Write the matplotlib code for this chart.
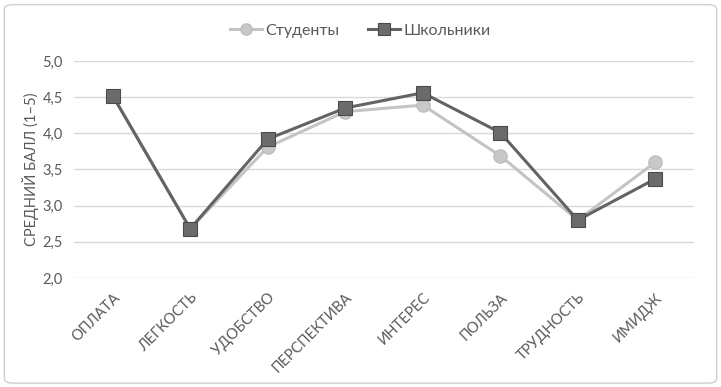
import matplotlib.pyplot as plt
from matplotlib.patches import FancyBboxPatch

plt.rcParams['font.family'] = ['Lato', 'DejaVu Sans']

# Data
categories = ["ОПЛАТА", "ЛЕГКОСТЬ", "УДОБСТВО", "ПЕРСПЕКТИВА", "ИНТЕРЕС", "ПОЛЬЗА", "ТРУДНОСТЬ", "ИМИДЖ"]
students = [4.52, 2.68, 3.81, 4.30, 4.39, 3.69, 2.80, 3.60]
schoolkids = [4.52, 2.68, 3.92, 4.35, 4.56, 4.01, 2.80, 3.37]
y_ticks = [2.0, 2.5, 3.0, 3.5, 4.0, 4.5, 5.0]

TEXT = '#595959'

fig = plt.figure(figsize=(7.21, 3.87), dpi=100)
ax = fig.add_axes([0.1026, 0.2817, 0.86, 0.5607])

x = list(range(len(categories)))
ax.plot(x, students, color='#c4c4c4', lw=2.2, marker='o', ms=9.5,
        mfc='#c8c8c8', mec='#bdbdbd', label='Студенты', zorder=3)
ax.plot(x, schoolkids, color='#636363', lw=2.2, marker='s', ms=9.5,
        mfc='#6b6b6b', mec='#4a4a4a', mew=0.8, label='Школьники', zorder=4)

ax.set_xlim(-0.5, len(categories) - 0.5)
ax.set_ylim(2.0, 5.0)
ax.set_yticks(y_ticks)
ax.set_yticklabels([f"{v:.1f}".replace('.', ',') for v in y_ticks])
ax.set_xticks(x)
ax.set_xticklabels(categories, rotation=45, ha='right', va='top',
                   rotation_mode='anchor', fontsize=10.5, color=TEXT)
ax.tick_params(axis='both', length=0, colors=TEXT)
ax.tick_params(axis='y', labelsize=10.5, pad=8)
ax.tick_params(axis='x', pad=9)
ax.grid(axis='y', color='#d9d9d9', lw=1)
ax.set_axisbelow(True)
for sp in ax.spines.values():
    sp.set_visible(False)

ax.set_ylabel("СРЕДНИЙ БАЛЛ (1–5)", fontsize=10.5, color=TEXT)
ax.yaxis.set_label_coords(-0.057, 0.5)

fig.legend(loc='center', bbox_to_anchor=(0.5, 0.92), ncol=2, frameon=False,
           fontsize=11.5, labelcolor=TEXT, handlelength=2.0, columnspacing=1.8,
           handletextpad=0.2, markerscale=0.85)

border = FancyBboxPatch((0.006, 0.01), 0.988, 0.978, boxstyle='round,pad=0,rounding_size=0.012',
                        transform=fig.transFigure, fill=False, ec='#d0d0d0', lw=1)
fig.patches.append(border)

fig.savefig('out.png', dpi=100)
